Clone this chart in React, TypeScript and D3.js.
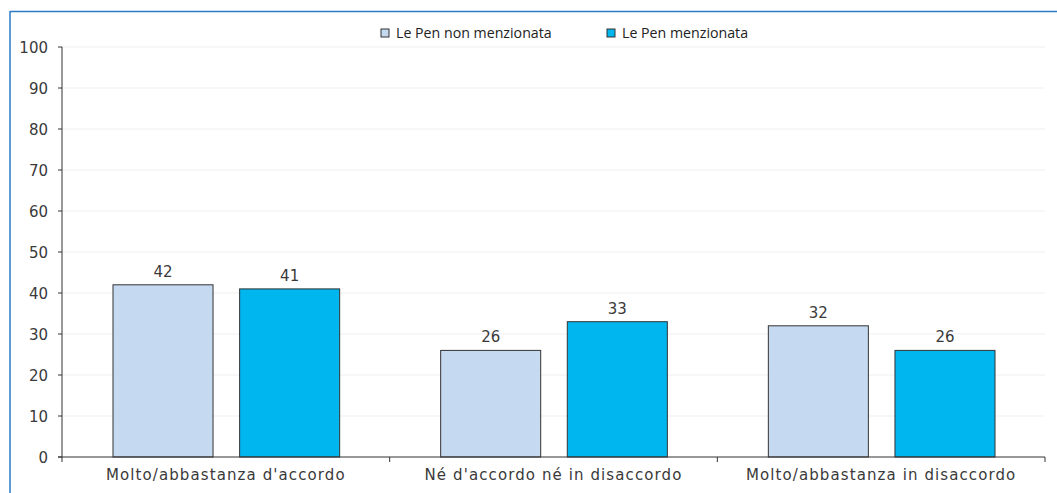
import React from "react";
import * as d3 from "d3";

const categories = ["Molto/abbastanza d'accordo", "Né d'accordo né in disaccordo", "Molto/abbastanza in disaccordo"];
const seriesNames = ["Le Pen non menzionata", "Le Pen menzionata"];
const nonMenzionata = [42, 26, 32];
const menzionata = [41, 33, 26];
const yTicks = [0, 10, 20, 30, 40, 50, 60, 70, 80, 90, 100];
const colors = ["#c5d9f1", "#00b6ef"];

export default function App() {
  const W = 1057, H = 493;
  const left = 62, right = 1045, top = 47, bottom = 457;
  const y = d3.scaleLinear().domain([0, 100]).range([bottom, top]);
  const x0 = d3.scaleBand().domain(categories).range([left, right]).paddingInner(0).paddingOuter(0);
  const x1 = d3.scaleBand().domain(seriesNames).range([51, x0.bandwidth() - 50]).paddingInner(0.21);
  const series = [nonMenzionata, menzionata];
  const axisFont = "'DejaVu Sans', sans-serif";
  const legendFont = "'Open Sans', 'Noto Sans', sans-serif";
  const textCol = "#3a3a3a";
  return (
    <svg width={W} height={H} style={{ position: "absolute", left: 0, top: 0, background: "#fff" }}>
      <line x1={10} y1={11.5} x2={W} y2={11.5} stroke="#2a7bc4" strokeWidth={1.5} />
      <line x1={10} y1={11} x2={10} y2={H} stroke="#2a7bc4" strokeWidth={1.5} />
      {yTicks.filter(t => t > 0).map(t => (
        <line key={"g" + t} x1={left} x2={right} y1={y(t)} y2={y(t)} stroke="#efefef" strokeWidth={1} />
      ))}
      {categories.map((c, ci) =>
        series.map((s, si) => (
          <g key={c + si}>
            <rect x={x0(c)! + x1(seriesNames[si])!} y={y(s[ci])} width={x1.bandwidth()} height={y(0) - y(s[ci])}
              fill={colors[si]} stroke="#333" strokeWidth={1} />
            <text x={x0(c)! + x1(seriesNames[si])! + x1.bandwidth() / 2} y={y(s[ci]) - 8} textAnchor="middle"
              fontFamily={axisFont} fontSize={15} fill={textCol}>{s[ci]}</text>
          </g>
        ))
      )}
      <line x1={left} x2={left} y1={top} y2={bottom} stroke="#333" strokeWidth={1} />
      {yTicks.map(t => (
        <g key={"t" + t}>
          <line x1={left - 4} x2={left} y1={y(t)} y2={y(t)} stroke="#333" />
          <text x={left - 14} y={y(t) + 5.5} textAnchor="end" fontFamily={axisFont} fontSize={15} fill={textCol}>{t}</text>
        </g>
      ))}
      <line x1={left - 4} x2={right} y1={bottom} y2={bottom} stroke="#333" strokeWidth={1} />
      {[...categories.map(c => x0(c)!), right].map((v, i) => (
        <line key={"xt" + i} x1={v} x2={v} y1={bottom} y2={bottom + 5} stroke="#333" />
      ))}
      {categories.map(c => (
        <text key={"cl" + c} x={x0(c)! + x0.bandwidth() / 2} y={bottom + 23} textAnchor="middle"
          fontFamily={axisFont} fontSize={15} letterSpacing={1.1} fill={textCol}>{c}</text>
      ))}
      {seriesNames.map((n, i) => {
        const lx = i === 0 ? 381 : 607;
        return (
          <g key={"lg" + n}>
            <rect x={lx} y={29} width={8} height={8} fill={colors[i]} stroke="#333" strokeWidth={1} />
            <text x={lx + 15} y={38} fontFamily={legendFont} fontSize={14.2} fill="#222">{n}</text>
          </g>
        );
      })}
    </svg>
  );
}
